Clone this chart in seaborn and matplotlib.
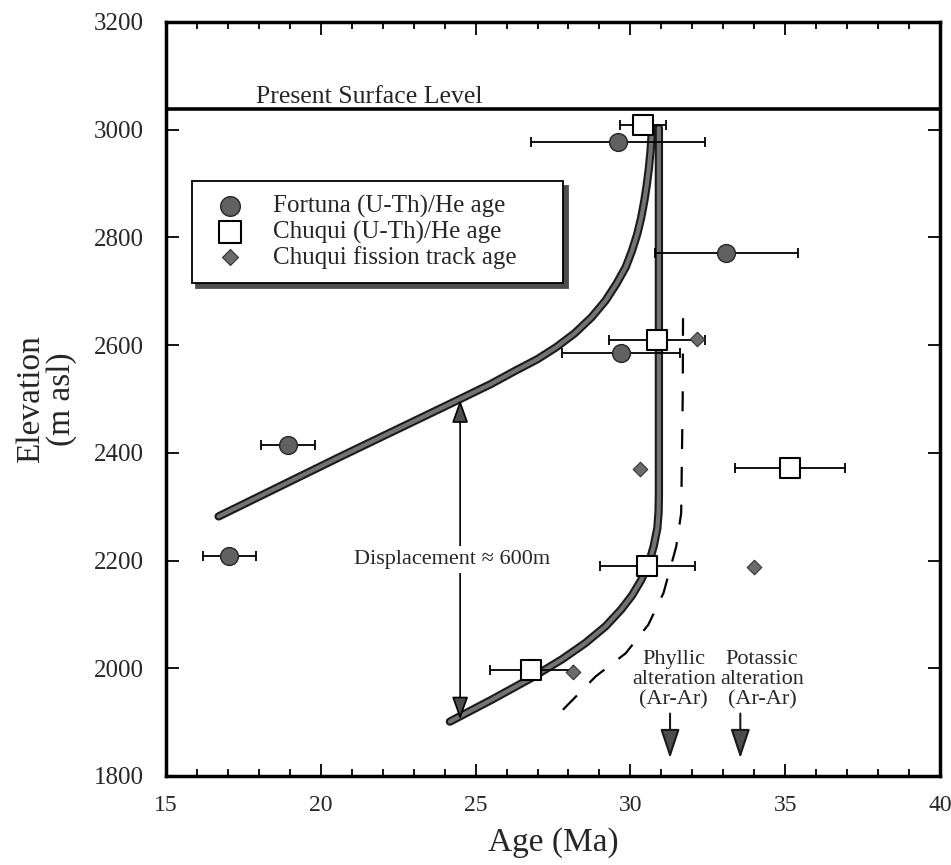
import matplotlib
matplotlib.use("Agg")
import matplotlib.pyplot as plt
import matplotlib.patheffects as pe
from matplotlib.ticker import MultipleLocator
import seaborn as sns

# Fortuna (U-Th)/He ages
fort_age = [29.6, 33.1, 29.7, 18.95, 17.05]
fort_elev = [2978, 2772, 2585, 2414, 2209]
fort_err = [2.8, 2.3, 1.9, 0.87, 0.87]

# Chuqui (U-Th)/He ages
chuq_age = [30.4, 30.85, 35.15, 30.55, 26.8]
chuq_elev = [3008, 2610, 2372, 2189, 1996]
chuq_err = [0.75, 1.55, 1.77, 1.53, 1.35]

# Chuqui fission track ages
ft_age = [32.15, 30.3, 34.0, 28.15]
ft_elev = [2612, 2370, 2188, 1994]

# model curves
upper_age = [16.7, 20.6, 24.5, 25.5, 26.3, 27.0, 27.6, 28.2, 28.75, 29.2, 29.55,
             29.85, 30.05, 30.22, 30.35, 30.45, 30.53, 30.6, 30.65, 30.7]
upper_elev = [2282, 2392, 2500, 2528, 2553, 2574, 2596, 2622, 2652, 2683, 2714,
              2745, 2775, 2806, 2837, 2868, 2898, 2930, 2960, 3003]
lower_age = [24.17, 25.5, 26.8, 27.8, 28.55, 29.2, 29.7, 30.05, 30.35, 30.6,
             30.75, 30.87, 30.91, 30.92, 30.92]
lower_elev = [1901, 1941, 1982, 2017, 2047, 2078, 2109, 2135, 2164, 2196,
              2226, 2260, 2290, 2320, 3003]
dash_age = [27.82, 28.88, 29.85, 30.58, 31.07, 31.48, 31.64, 31.69, 31.7]
dash_elev = [1923, 1985, 2028, 2081, 2140, 2226, 2288, 2505, 2650]

surface_elev = 3038
phyllic_age = 31.28
potassic_age = 33.55

sns.set_style("ticks")
plt.rcParams['font.family'] = ['Liberation Serif', 'DejaVu Serif']

fig = plt.figure(figsize=(9.51, 8.65), dpi=100)
ax = fig.add_axes([166/951, 1-776/865, 774/951, 754/865])

# curves
outline = [pe.Stroke(linewidth=6, foreground='0.1'), pe.Normal()]
sns.lineplot(x=upper_age, y=upper_elev, sort=False, estimator=None, color='0.45',
             lw=3, path_effects=outline, ax=ax, zorder=2)
sns.lineplot(x=lower_age, y=lower_elev, sort=False, estimator=None, color='0.45',
             lw=3, path_effects=outline, ax=ax, zorder=2)
sns.lineplot(x=dash_age, y=dash_elev, sort=False, estimator=None, color='k',
             lw=1.6, ax=ax, zorder=2)
ax.lines[-1].set_dashes([9, 8])

# present surface
ax.axhline(surface_elev, color='k', lw=2.6, zorder=2)
ax.text(17.9, surface_elev + 12, 'Present Surface Level', fontsize=18.5, va='baseline')

# error bars
ax.errorbar(fort_age, fort_elev, xerr=fort_err, fmt='none', ecolor='k',
            elinewidth=1.3, capsize=3.6, capthick=1.3, zorder=3)
ax.errorbar(chuq_age, chuq_elev, xerr=chuq_err, fmt='none', ecolor='k',
            elinewidth=1.3, capsize=3.6, capthick=1.3, zorder=3)

# points
sns.scatterplot(x=fort_age, y=fort_elev, marker='o', s=165, color='0.38',
                edgecolor='0.15', linewidth=1, ax=ax, zorder=5)
h_fort = ax.collections[-1]
sns.scatterplot(x=chuq_age, y=chuq_elev, marker='s', s=200, color='white',
                edgecolor='k', linewidth=1.5, ax=ax, zorder=5)
h_chuq = ax.collections[-1]
sns.scatterplot(x=ft_age, y=ft_elev, marker='D', s=55, color='0.42',
                edgecolor='0.2', linewidth=0.8, ax=ax, zorder=5)
h_ft = ax.collections[-1]

# displacement arrow
ax.annotate('', xy=(24.5, 2498), xytext=(24.5, 1905),
            arrowprops=dict(arrowstyle='<|-|>,head_length=0.7,head_width=0.25',
                            color='k', fc='0.3', lw=1.2, mutation_scale=20,
                            shrinkA=0, shrinkB=0), zorder=3)
ax.text(24.25, 2202, 'Displacement \u2248 600m', fontsize=16, ha='center', va='center',
        bbox=dict(facecolor='white', edgecolor='none', pad=3), zorder=4)

# alteration ages
for age, lab, tx in [(phyllic_age, 'Phyllic\nalteration\n(Ar-Ar)', 31.4),
                     (potassic_age, 'Potassic\nalteration\n(Ar-Ar)', 34.25)]:
    ax.annotate('', xy=(age, 1833), xytext=(age, 1916),
                arrowprops=dict(arrowstyle='-|>,head_length=0.9,head_width=0.3',
                                color='0.1', fc='0.3', lw=1.5, mutation_scale=20,
                                shrinkA=0, shrinkB=0))
    ax.text(tx, 1979, lab, fontsize=16, ha='center', va='center',
            ma='center', linespacing=1.1)

ax.set_xlim(15, 40)
ax.set_ylim(1800, 3200)
ax.xaxis.set_major_locator(MultipleLocator(5))
ax.xaxis.set_minor_locator(MultipleLocator(1))
ax.yaxis.set_major_locator(MultipleLocator(200))
ax.tick_params(which='both', direction='in', top=True, right=True, width=1.3, color='k')
ax.tick_params(which='major', length=9)
ax.tick_params(which='minor', length=5)
ax.tick_params(axis='x', labelsize=17, pad=14)
ax.tick_params(axis='y', labelsize=18, pad=16)
for s in ax.spines.values():
    s.set_linewidth(2.5)
    s.set_color('k')

ax.set_xlabel('Age (Ma)', fontsize=24, labelpad=8)
ax.set_ylabel('Elevation\n(m asl)', fontsize=24, labelpad=12, linespacing=1.0)

leg = ax.legend([h_fort, h_chuq, h_ft],
                ['Fortuna (U-Th)/He age', 'Chuqui (U-Th)/He age', 'Chuqui fission track age'],
                loc='upper left', bbox_to_anchor=(0.033, 0.653, 0.48, 0.136), mode='expand',
                fontsize=18, frameon=True, fancybox=False, borderaxespad=0,
                borderpad=0.55, handlelength=2.0, handletextpad=0.7, labelspacing=0.1,
                markerscale=1.1,
                shadow={'ox': 3.5, 'oy': -3.5, 'color': '0.3', 'alpha': 1})
leg.get_frame().set_edgecolor('k')
leg.get_frame().set_linewidth(1.3)
leg.get_frame().set_alpha(1)

fig.savefig('out.png', dpi=100)
